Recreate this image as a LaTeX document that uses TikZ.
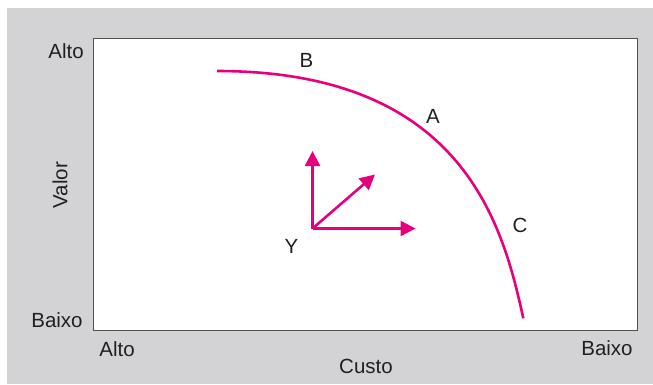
\documentclass[tikz,border=0pt]{standalone}
\usepackage{fontspec}
\setmainfont{Liberation Sans}
\usetikzlibrary{arrows.meta}
\definecolor{bggrey}{RGB}{211,211,213}
\definecolor{mag}{RGB}{230,0,126}
\definecolor{txt}{RGB}{35,31,32}
\definecolor{frame}{RGB}{80,80,80}
\begin{document}
\begin{tikzpicture}[x=1pt,y=-1pt,
  lbl/.style={inner sep=0pt,text=txt,font=\fontsize{20.5}{24}\selectfont},
  vec/.style={draw=mag,line width=2.6pt,-{Triangle[length=15pt,width=15pt]}},
  curve/.style={draw=mag,line width=2.6pt}]
\useasboundingbox (0,0) rectangle (653,384);
\fill[bggrey] (7,8) rectangle (653,384);
\draw[frame,fill=white,line width=1pt] (93.5,38.5) rectangle (637,330.5);
% curve
\coordinate (cs) at (217,71);
\coordinate (ce) at (523.3,318.3);
\draw[curve] (cs) .. controls (464,71) and (503,226) .. (ce);
% vectors
\coordinate (o) at (312.5,228.5);
\coordinate (up) at (312.5,151);
\coordinate (dg) at (375,174.5);
\coordinate (rt) at (415.5,228.5);
\draw[vec] (o) -- (up);
\draw[vec] (o) -- (dg);
\draw[vec] (o) -- (rt);
% labels
\node[lbl] (alto1) at (66,51.5) {Alto};
\node[lbl] (baixo1) at (57,320.5) {Baixo};
\node[lbl] (alto2) at (117,349) {Alto};
\node[lbl] (baixo2) at (607,348.5) {Baixo};
\node[lbl] (custo) at (366,366.5) {Custo};
\node[lbl,rotate=90] (valor) at (60,185) {Valor};
\node[lbl] (b) at (306.5,60.5) {B};
\node[lbl] (a) at (433,116) {A};
\node[lbl] (c) at (520,225) {C};
\node[lbl] (y) at (291.5,246) {Y};
\end{tikzpicture}
\end{document}
